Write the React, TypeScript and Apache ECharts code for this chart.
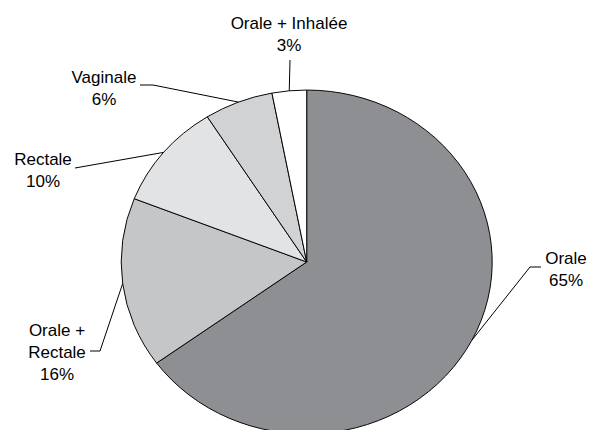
import React, { useEffect, useRef } from "react";
import * as echarts from "echarts";

// ---- data ----
const categories = ["Orale", "Orale + Rectale", "Rectale", "Vaginale", "Orale + Inhalée"];
const values = [65, 16, 10, 6, 3];

// ---- styles / layout (kept apart from data) ----
const sliceColors = ["#8d8f93", "#c5c6c8", "#e2e3e4", "#d1d2d4", "#ffffff"];
const labelLayout = [
  { x: 566, y: 269.5, wrap: false, line: [[541, 267], [530, 267]] },
  { x: 57, y: 352, wrap: true, line: [[90, 351], [100, 351]] },
  { x: 43, y: 170, wrap: false, line: [[75, 168]] },
  { x: 104, y: 88.5, wrap: false, line: [[140, 85], [153, 85]] },
  { x: 289, y: 34.5, wrap: false, line: [[290, 60]] },
];
const CX = 306.7;
const CY = 262;
const RX = 185.5;
const RY = 172;

export default function App() {
  const ref = useRef<HTMLDivElement>(null);

  useEffect(() => {
    if (!ref.current) return;
    const chart = echarts.init(ref.current, undefined, { renderer: "svg" });
    const total = values.reduce((a, b) => a + b, 0);

    const renderItem = (params: any, api: any) => {
      const i = params.dataIndex;
      const v = api.value(0) as number;
      const before = values.slice(0, i).reduce((a, b) => a + b, 0);
      const start = -Math.PI / 2 + (before / total) * 2 * Math.PI;
      const end = start + (v / total) * 2 * Math.PI;
      const mid = (start + end) / 2;
      const edge = [CX + RX * Math.cos(mid), CY + RY * Math.sin(mid)];
      const lay = labelLayout[i];
      const name = lay.wrap ? categories[i].replace(" + ", " +\n") : categories[i];
      const pct = Math.round((v / total) * 100) + "%";
      return {
        type: "group",
        children: [
          {
            type: "group",
            x: CX,
            y: CY,
            scaleY: RY / RX,
            children: [
              {
                type: "sector",
                shape: { cx: 0, cy: 0, r0: 0, r: RX, startAngle: start, endAngle: end, clockwise: true },
                style: { fill: sliceColors[i], stroke: "#000", lineWidth: 1, strokeNoScale: true },
              },
            ],
          },
          {
            type: "polyline",
            shape: { points: [...lay.line, edge] },
            style: { stroke: "#000", lineWidth: 1, fill: null },
          },
          {
            type: "text",
            x: lay.x,
            y: lay.y,
            style: {
              text: name + "\n" + pct,
              fill: "#000",
              fontFamily: "Liberation Sans",
              fontSize: 17,
              fontWeight: "normal",
              textAlign: "center",
              textVerticalAlign: "middle",
              align: "center",
              verticalAlign: "middle",
              lineHeight: 22,
            },
          },
        ],
      };
    };

    chart.setOption({
      animation: false,
      backgroundColor: "#ffffff",
      series: [
        {
          type: "custom",
          coordinateSystem: "none",
          silent: true,
          renderItem,
          data: values.map((v, i) => ({ name: categories[i], value: v })),
        },
      ],
    });
    return () => chart.dispose();
  }, []);

  return (
    <div
      ref={ref}
      style={{ position: "fixed", left: 0, top: 0, width: 589, height: 430, background: "#fff" }}
    />
  );
}
